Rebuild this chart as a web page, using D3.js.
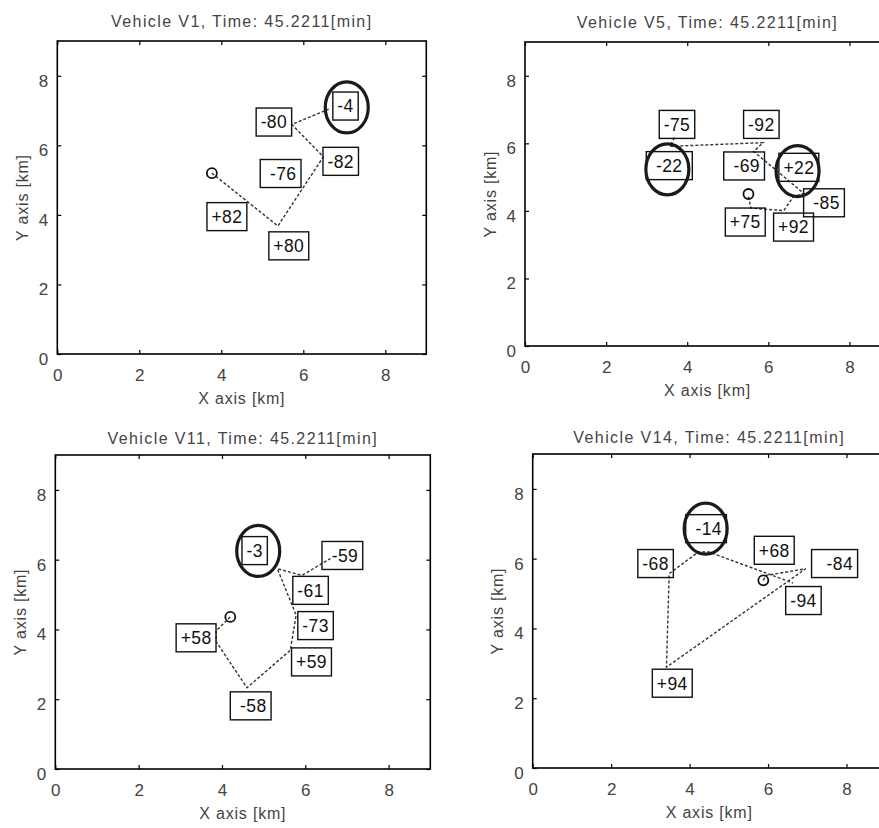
<!DOCTYPE html>
<html>
<head>
<meta charset="utf-8">
<script src="https://cdn.jsdelivr.net/npm/d3@7"></script>
<style>
  html, body { margin: 0; padding: 0; background: #fff; }
  svg { display: block; font-family: "Liberation Sans", Arial, sans-serif; }
</style>
</head>
<body>
<svg id="chart" width="879" height="828"></svg>
<script>
// ---------------- DATA ----------------
const titles = [
  "Vehicle V1, Time: 45.2211[min]",
  "Vehicle V5, Time: 45.2211[min]",
  "Vehicle V11, Time: 45.2211[min]",
  "Vehicle V14, Time: 45.2211[min]"
];
const xAxisLabel = "X axis [km]";
const yAxisLabel = "Y axis [km]";
const xDomain = [0, 9];
const yDomain = [0, 9];
const xTicks = [0, 2, 4, 6, 8];
const yTicks = [0, 2, 4, 6, 8];

// Vehicle V1
const v1Start = [3.77, 5.20];
const v1RouteX = [3.77, 5.38, 6.49, 5.72, 6.62];
const v1RouteY = [5.20, 3.68, 5.67, 6.60, 7.04];
const v1LabelText = ["-80", "-4", "-82", " -76", "+82", "+80"];
const v1LabelX = [4.85, 6.72, 6.48, 4.95, 3.65, 5.16];
const v1LabelY = [6.67, 7.13, 5.54, 5.19, 3.95, 3.11];
const v1CircleX = [7.06];
const v1CircleY = [7.09];

// Vehicle V5
const v5Start = [5.51, 4.50];
const v5RouteX = [5.51, 5.57, 6.38, 6.62, 6.87, 5.64, 5.87, 3.58, 3.70];
const v5RouteY = [4.42, 4.08, 4.01, 4.42, 4.52, 5.76, 6.02, 5.91, 6.22];
const v5LabelText = ["-75", "-92", " -22 ", " -69", "+22", " -85", "+75", "+92"];
const v5LabelX = [3.31, 5.39, 2.99, 4.90, 6.26, 6.87, 4.94, 6.13];
const v5LabelY = [6.56, 6.56, 5.34, 5.33, 5.29, 4.24, 3.67, 3.52];
const v5CircleX = [3.51, 6.72];
const v5CircleY = [5.23, 5.18];

// Vehicle V11
const v11Start = [4.20, 4.36];
const v11RouteX = [4.20, 3.86, 3.86, 4.60, 5.64, 5.78, 5.33, 5.92, 6.60];
const v11RouteY = [4.36, 3.96, 3.65, 2.33, 3.40, 4.41, 5.74, 5.55, 6.03];
const v11LabelText = ["-3", " -59", "-61", "-73", "+59", " -58", "+58"];
const v11LabelX = [4.48, 6.40, 5.70, 5.82, 5.67, 4.20, 2.90];
const v11LabelY = [6.26, 6.12, 5.12, 4.11, 3.07, 1.81, 3.76];
const v11CircleX = [4.87];
const v11CircleY = [6.25];

// Vehicle V14
const v14Start = [5.88, 5.38];
const v14RouteX = [5.88, 5.95, 6.96, 3.41, 3.48, 4.22, 4.50, 6.64];
const v14RouteY = [5.38, 5.52, 5.71, 2.89, 5.57, 6.19, 6.19, 5.30];
const v14LabelText = [" -14", "-68", "+68", "  -84", "-94", "+94"];
const v14LabelX = [3.90, 2.68, 5.65, 7.11, 6.45, 3.05];
const v14LabelY = [6.86, 5.86, 6.24, 5.86, 4.80, 2.43];
const v14CircleX = [4.41];
const v14CircleY = [6.86];

// ---------------- LAYOUT ----------------
const panels = [
  { left: 57.3, top: 41, w: 369, h: 313, titleOff: 19.5,
    start: v1Start, rx: v1RouteX, ry: v1RouteY, lt: v1LabelText, lx: v1LabelX, ly: v1LabelY, cx: v1CircleX, cy: v1CircleY },
  { left: 525, top: 42, w: 365, h: 304, titleOff: 19.5,
    start: v5Start, rx: v5RouteX, ry: v5RouteY, lt: v5LabelText, lx: v5LabelX, ly: v5LabelY, cx: v5CircleX, cy: v5CircleY },
  { left: 55.3, top: 455, w: 375, h: 314, titleOff: 17,
    start: v11Start, rx: v11RouteX, ry: v11RouteY, lt: v11LabelText, lx: v11LabelX, ly: v11LabelY, cx: v11CircleX, cy: v11CircleY },
  { left: 532.7, top: 454, w: 353, h: 314, titleOff: 17,
    start: v14Start, rx: v14RouteX, ry: v14RouteY, lt: v14LabelText, lx: v14LabelX, ly: v14LabelY, cx: v14CircleX, cy: v14CircleY }
];

const svg = d3.select("#chart");
const textColor = "#444";

panels.forEach((p, i) => {
  const g = svg.append("g").attr("transform", `translate(${p.left},${p.top})`);
  const x = d3.scaleLinear().domain(xDomain).range([0, p.w]);
  const y = d3.scaleLinear().domain(yDomain).range([p.h, 0]);

  // title
  g.append("text")
    .attr("x", p.w / 2).attr("y", -p.titleOff)
    .attr("dy", "0.35em")
    .attr("text-anchor", "middle")
    .attr("font-size", 16).attr("letter-spacing", 1.4)
    .attr("fill", textColor)
    .text(titles[i]);

  // axes: bottom with labels, ticks inward
  const bottom = g.append("g").attr("transform", `translate(0,${p.h})`)
    .call(d3.axisBottom(x).tickValues(xTicks).tickSizeInner(-4).tickSizeOuter(0).tickPadding(15).tickFormat(d3.format("d")));
  const left = g.append("g")
    .call(d3.axisLeft(y).tickValues(yTicks).tickSizeInner(-4).tickSizeOuter(0).tickPadding(9).tickFormat(d3.format("d")));
  const top = g.append("g")
    .call(d3.axisTop(x).tickValues(xTicks).tickSizeInner(-4).tickSizeOuter(0).tickFormat(""));
  const right = g.append("g").attr("transform", `translate(${p.w},0)`)
    .call(d3.axisRight(y).tickValues(yTicks).tickSizeInner(-4).tickSizeOuter(0).tickFormat(""));
  [bottom, left, top, right].forEach(a => {
    a.select(".domain").remove();
    a.selectAll(".tick line").attr("stroke", "#000").attr("stroke-width", 1.2);
    a.selectAll(".tick text").attr("font-size", 17).attr("fill", textColor)
      .attr("font-family", "'Liberation Sans', Arial, sans-serif");
  });
  bottom.selectAll(".tick text").attr("dy", "0.71em");
  left.selectAll(".tick text").attr("dy", "0.62em");

  // frame
  g.append("rect").attr("x", 0).attr("y", 0).attr("width", p.w).attr("height", p.h)
    .attr("fill", "none").attr("stroke", "#000").attr("stroke-width", 1.6);

  // axis labels
  g.append("text")
    .attr("x", p.w / 2).attr("y", p.h + 44).attr("dy", "0.35em")
    .attr("text-anchor", "middle").attr("font-size", 16).attr("letter-spacing", 0.8)
    .attr("fill", textColor).text(xAxisLabel);
  g.append("text")
    .attr("transform", `translate(-35,${p.h / 2}) rotate(-90)`)
    .attr("dy", "0.35em")
    .attr("text-anchor", "middle").attr("font-size", 16).attr("letter-spacing", 0.8)
    .attr("fill", textColor).text(yAxisLabel);

  // route (dashed)
  const pts = p.rx.map((v, k) => [v, p.ry[k]]);
  const line = d3.line().x(d => x(d[0])).y(d => y(d[1]));
  g.append("path").attr("d", line(pts))
    .attr("fill", "none").attr("stroke", "#333").attr("stroke-width", 1.4)
    .attr("stroke-dasharray", "3,2");

  // start marker
  g.append("circle").attr("cx", x(p.start[0])).attr("cy", y(p.start[1])).attr("r", 5)
    .attr("fill", "none").attr("stroke", "#111").attr("stroke-width", 1.8);

  // labels with boxes
  const pad = 4.5, bh = 28;
  p.lt.forEach((t, k) => {
    const lg = g.append("g");
    const tx = lg.append("text")
      .attr("x", x(p.lx[k]) + pad).attr("y", y(p.ly[k])).attr("dy", "0.36em")
      .attr("font-size", 17.5).attr("letter-spacing", 0.4)
      .attr("fill", "#111").attr("xml:space", "preserve").style("white-space", "pre")
      .text(t);
    const tw = tx.node().getComputedTextLength();
    lg.insert("rect", "text")
      .attr("x", x(p.lx[k])).attr("y", y(p.ly[k]) - bh / 2)
      .attr("width", tw + 2 * pad).attr("height", bh)
      .attr("fill", "none").attr("stroke", "#111").attr("stroke-width", 1.4);
  });

  // highlighted circles
  p.cx.forEach((cxv, k) => {
    g.append("ellipse").attr("cx", x(cxv)).attr("cy", y(p.cy[k]))
      .attr("rx", 21.5).attr("ry", 25.5)
      .attr("fill", "none").attr("stroke", "#1a1a1a").attr("stroke-width", 3.2);
  });
});
</script>
</body>
</html>
